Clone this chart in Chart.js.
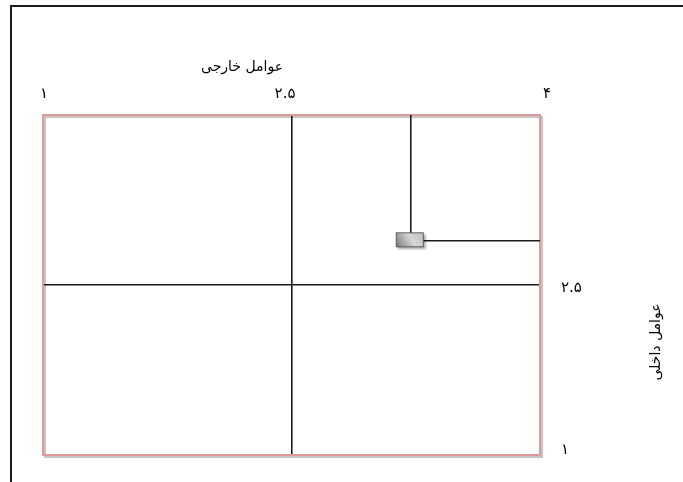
<!DOCTYPE html>
<html lang="fa">
<head>
<meta charset="utf-8">
<script src="https://cdn.jsdelivr.net/npm/chart.js@4.4.1/dist/chart.umd.min.js"></script>
<style>
	html, body { margin: 0; padding: 0; background: #fff; }
	#wrap { position: relative; width: 683px; height: 482px; overflow: hidden; }
	#frame { position: absolute; left: 10px; top: 5px; width: 700px; height: 500px; border-top: 2px solid #1b1b1b; border-left: 2px solid #1b1b1b; }
	canvas { position: absolute; left: 0; top: 0; }
</style>
</head>
<body>
<div id="wrap">
	<div id="frame"></div>
	<canvas id="ie-matrix" width="683" height="482"></canvas>
</div>
<script>
const xTitle = "عوامل خارجی";
const yTitle = "عوامل داخلی";
const axisMin = 1;
const axisMax = 4;
const midValue = 2.5;
const xTicks = [1, 2.5, 4];
const xTickLabels = ["۱", "۲.۵", "۴"];
const yTicks = [1, 2.5];
const yTickLabels = ["۱", "۲.۵"];
const externalScore = 3.22;	// عوامل خارجی
const internalScore = 2.89;	// عوامل داخلی

const TICK_FONT = "15px 'DejaVu Sans'";
const TITLE_FONT = "14px 'DejaVu Sans'";

function makeMarker()
{
	const c = document.createElement("canvas");
	c.width = 32;
	c.height = 19;
	const g = c.getContext("2d");
	g.shadowColor = "rgba(0,0,0,0.3)";
	g.shadowOffsetX = 2;
	g.shadowOffsetY = 2;
	g.shadowBlur = 2;
	const grad = g.createLinearGradient(2, 16, 26, 1);
	grad.addColorStop(0, "#7a7a7a");
	grad.addColorStop(0.6, "#d8d8d8");
	grad.addColorStop(1, "#c2c2c2");
	g.fillStyle = grad;
	g.fillRect(1, 1, 28, 15);
	g.shadowColor = "transparent";
	g.strokeStyle = "#5c5c5c";
	g.lineWidth = 1;
	g.strokeRect(1.5, 1.5, 27, 14);
	return c;
}

// red box round the plot, with its grey shadow
const plotFrame = {
	id: "plotFrame",
	beforeDatasetsDraw(chart) {
		const { ctx, chartArea: a } = chart;
		ctx.save();
		ctx.shadowColor = "rgba(0,0,0,0.25)";
		ctx.shadowOffsetX = 2;
		ctx.shadowOffsetY = 2;
		ctx.shadowBlur = 1;
		ctx.strokeStyle = "#dc9a9a";
		ctx.lineWidth = 2;
		ctx.strokeRect(a.left, a.top, a.width, a.height);
		ctx.restore();
	}
};

// tick labels and axis titles, placed like the original
const axisText = {
	id: "axisText",
	afterDraw(chart) {
		const { ctx, chartArea: a, scales } = chart;
		ctx.save();
		ctx.fillStyle = "#000";
		ctx.textBaseline = "middle";

		ctx.font = TICK_FONT;
		ctx.letterSpacing = "2px";
		const xAlign = ["center", "right", "left"];
		const xShift = [1, 4, 3];
		xTicks.forEach((v, i) => {
			ctx.textAlign = xAlign[i];
			ctx.fillText(xTickLabels[i], scales.x.getPixelForValue(v) + xShift[i], a.top - 21);
		});

		const yShift = [-5, 3];
		ctx.textAlign = "left";
		yTicks.forEach((v, i) => {
			ctx.fillText(yTickLabels[i], a.right + 21, scales.y.getPixelForValue(v) + yShift[i]);
		});

		ctx.letterSpacing = "0px";
		ctx.font = TITLE_FONT;
		ctx.textAlign = "center";
		ctx.fillText(xTitle, 242, a.top - 48);

		ctx.translate(656, 342);
		ctx.rotate(-Math.PI / 2);
		ctx.fillText(yTitle, 0, 0);
		ctx.restore();
	}
};

function midGrid(c)
{
	return c.tick && c.tick.value === midValue ? "#1a1a1a" : "rgba(0,0,0,0)";
}

new Chart(document.getElementById("ie-matrix"), {
	type: "scatter",
	data: {
		datasets: [
			{
				type: "line",
				data: [
					{ x: externalScore, y: axisMax },
					{ x: externalScore, y: internalScore },
					{ x: axisMax, y: internalScore }
				],
				borderColor: "#1a1a1a",
				borderWidth: 1.6,
				pointRadius: 0,
				fill: false,
				tension: 0,
				clip: false,
				order: 2
			},
			{
				data: [{ x: externalScore, y: internalScore }],
				pointStyle: makeMarker(),
				pointRadius: 10,
				order: 1
			}
		]
	},
	options: {
		responsive: false,
		animation: false,
		layout: { padding: { left: 43, top: 115, right: 143, bottom: 27 } },
		plugins: {
			legend: { display: false },
			tooltip: { enabled: false }
		},
		scales: {
			x: {
				type: "linear",
				position: "top",
				min: axisMin,
				max: axisMax,
				afterBuildTicks: (s) => { s.ticks = xTicks.map(v => ({ value: v })); },
				ticks: { display: false },
				grid: { color: midGrid, lineWidth: 1.6, drawTicks: false },
				border: { display: false }
			},
			y: {
				type: "linear",
				position: "right",
				min: axisMin,
				max: axisMax,
				afterBuildTicks: (s) => { s.ticks = [...yTicks, axisMax].map(v => ({ value: v })); },
				ticks: { display: false },
				grid: { color: midGrid, lineWidth: 1.6, drawTicks: false },
				border: { display: false }
			}
		}
	},
	plugins: [plotFrame, axisText]
});
</script>
</body>
</html>
